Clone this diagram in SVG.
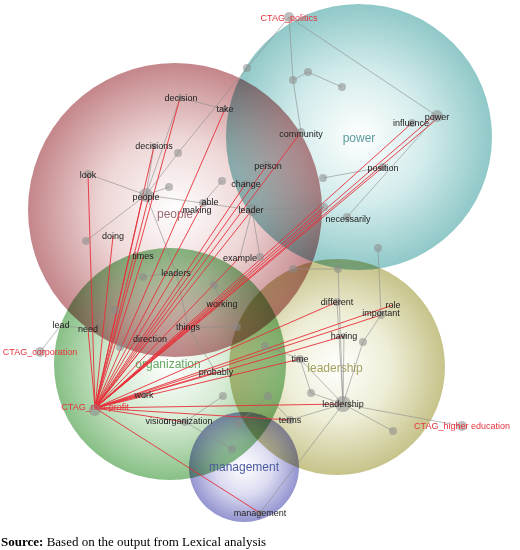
<svg xmlns="http://www.w3.org/2000/svg" width="520" height="550" viewBox="0 0 520 550">
<defs>
<radialGradient id="gRed"><stop offset="0" stop-color="#ffffff"/><stop offset="0.5" stop-color="#eed6d6"/><stop offset="1" stop-color="#c4868a"/></radialGradient>
<radialGradient id="gTeal"><stop offset="0" stop-color="#ffffff"/><stop offset="0.5" stop-color="#d4ecec"/><stop offset="1" stop-color="#90c8c8"/></radialGradient>
<radialGradient id="gGreen"><stop offset="0" stop-color="#ffffff"/><stop offset="0.5" stop-color="#d6ebd4"/><stop offset="1" stop-color="#88c086"/></radialGradient>
<radialGradient id="gOlive"><stop offset="0" stop-color="#ffffff"/><stop offset="0.5" stop-color="#eeedd6"/><stop offset="1" stop-color="#c6c38a"/></radialGradient>
<radialGradient id="gPurple"><stop offset="0" stop-color="#ffffff"/><stop offset="0.5" stop-color="#dcdcf2"/><stop offset="1" stop-color="#9494d0"/></radialGradient>
</defs>
<style>
.cl{mix-blend-mode:multiply}
.t{font-family:"Liberation Sans",Arial,sans-serif;font-size:9px;fill:#222;text-anchor:middle}
.ct{fill:#e8323c}
.big{font-size:12px}
.d{fill:#8a8a8a;fill-opacity:0.55}
.g{stroke:#8c8c8c;stroke-opacity:0.6;stroke-width:1;fill:none}
.r{stroke:#e8303a;stroke-opacity:0.9;stroke-width:1;fill:none}
.cap{font-family:"Liberation Serif","Times New Roman",serif;font-size:13px;fill:#000}
</style>
<g id="clusters">
<circle class="cl" cx="175" cy="210" r="147" fill="url(#gRed)"/>
<circle class="cl" cx="359" cy="137" r="133" fill="url(#gTeal)"/>
<circle class="cl" cx="170" cy="364" r="116" fill="url(#gGreen)"/>
<circle class="cl" cx="337" cy="367" r="108" fill="url(#gOlive)"/>
<circle class="cl" cx="244" cy="467" r="55" fill="url(#gPurple)"/>
<text class="t big" x="175" y="218" style="fill:#9c6a70">people</text>
<text class="t big" x="359" y="142" style="fill:#5a9c9e">power</text>
<text class="t big" x="168" y="368" style="fill:#68a866">organization</text>
<text class="t big" x="335" y="372" style="fill:#a4a25c">leadership</text>
<text class="t big" x="244" y="471" style="fill:#4c5a9e">management</text>
</g>
<g id="connectors">
<path class="g" d="M289 17L293 80L301 132M293 80L308 72L342 87M289 17L437 116M289 17L247 68L178 153L146 195M180 98L225 109M180 98L146 195M154 146L146 195M88 174L146 195M146 195L169 187M146 195L86 241M146 195L252 210L324 207M222 181L203 203M252 210L240 257M252 210L260 257M146 195L176 272M143 277L176 272L188 327L237 327M188 327L216 372M214 285L222 303M61 325L88 329M61 325L40 352M88 329L115 310M150 339L120 347M323 178L383 167M437 116L347 217M293 269L338 269L343 404M378 248L381 315L363 342L343 404M344 336L343 404M337 302L343 404M300 359L343 404M300 359L311 393M265 346L300 359M343 404L311 393M343 404L290 420M343 404L393 431M343 404L462 426M343 404L260 513M268 396L238 424M268 396L290 420M223 396L185 422L232 449"/>
<path class="r" d="M95 408L88 174M95 408L180 98M95 408L154 146M95 408L143 196M95 408L149 196M95 408L225 109M95 408L301 132M95 408L267 165M95 408L246 183M95 408L203 203M95 408L252 210M95 408L412 123M95 408L435 115M95 408L438 118M95 408L383 167M95 408L324 207M95 408L143 257M95 408L113 236M95 408L176 272M95 408L240 257M95 408L222 303M95 408L188 327M95 408L150 339M95 408L88 329M95 408L337 302M95 408L381 315M95 408L393 305M95 408L344 336M95 408L300 359M95 408L216 372M95 408L144 395M95 408L343 404M95 408L290 420M95 408L185 422M95 408L260 513"/>
</g>
<g id="n_ctag_politics"><circle class="d" cx="289" cy="17" r="5"/><text class="t ct" x="289" y="21">CTAG_politics</text></g>
<g id="n_power"><circle class="d" cx="437" cy="116" r="6"/><text class="t" x="437" y="120">power</text></g>
<g id="n_influence"><circle class="d" cx="412" cy="123" r="4"/><text class="t" x="411" y="126">influence</text></g>
<g id="n_community"><circle class="d" cx="301" cy="132" r="4"/><text class="t" x="301" y="137">community</text></g>
<g id="n_position"><circle class="d" cx="383" cy="167" r="4"/><text class="t" x="383" y="171">position</text></g>
<g id="n_person"><circle class="d" cx="267" cy="165" r="4"/><text class="t" x="268" y="169">person</text></g>
<g id="n_change"><circle class="d" cx="246" cy="183" r="3"/><text class="t" x="246" y="187">change</text></g>
<g id="n_decision"><circle class="d" cx="180" cy="98" r="3"/><text class="t" x="181" y="101">decision</text></g>
<g id="n_take"><circle class="d" cx="225" cy="109" r="3"/><text class="t" x="225" y="112">take</text></g>
<g id="n_decisions"><circle class="d" cx="154" cy="146" r="3"/><text class="t" x="154" y="149">decisions</text></g>
<g id="n_people"><circle class="d" cx="146" cy="195" r="7"/><text class="t" x="146" y="200">people</text></g>
<g id="n_look"><circle class="d" cx="88" cy="174" r="4"/><text class="t" x="88" y="178">look</text></g>
<g id="n_able"><circle class="d" cx="203" cy="203" r="4"/><text class="t" x="210" y="205">able</text></g>
<g id="n_making"><text class="t" x="197" y="213">making</text></g>
<g id="n_leader"><circle class="d" cx="252" cy="210" r="6"/><text class="t" x="251" y="213">leader</text></g>
<g id="n_example"><circle class="d" cx="260" cy="257" r="4"/><text class="t" x="240" y="261">example</text></g>
<g id="n_times"><text class="t" x="143" y="259">times</text></g>
<g id="n_doing"><text class="t" x="113" y="239">doing</text></g>
<g id="n_leaders"><text class="t" x="176" y="276">leaders</text></g>
<g id="n_working"><text class="t" x="222" y="307">working</text></g>
<g id="n_lead"><text class="t" x="61" y="328">lead</text></g>
<g id="n_need"><text class="t" x="88" y="332">need</text></g>
<g id="n_ctag_corporation"><circle class="d" cx="40" cy="352" r="5"/><text class="t ct" x="40" y="355">CTAG_corporation</text></g>
<g id="n_things"><text class="t" x="188" y="330">things</text></g>
<g id="n_direction"><text class="t" x="150" y="342">direction</text></g>
<g id="n_probably"><text class="t" x="216" y="375">probably</text></g>
<g id="n_work"><circle class="d" cx="144" cy="395" r="3"/><text class="t" x="144" y="398">work</text></g>
<g id="n_ctag_nonprofit"><circle class="d" cx="95" cy="410" r="6"/><text class="t ct" x="95" y="410">CTAG_non-profit</text></g>
<g id="n_vision"><text class="t" x="157" y="424">vision</text></g>
<g id="n_organization"><circle class="d" cx="185" cy="422" r="4"/><text class="t" x="188" y="424">organization</text></g>
<g id="n_terms"><circle class="d" cx="290" cy="420" r="4"/><text class="t" x="290" y="423">terms</text></g>
<g id="n_leadership"><circle class="d" cx="343" cy="404" r="8"/><text class="t" x="343" y="407">leadership</text></g>
<g id="n_ctag_higher_education"><circle class="d" cx="462" cy="426" r="5"/><text class="t ct" x="462" y="429">CTAG_higher education</text></g>
<g id="n_management"><circle class="d" cx="260" cy="513" r="3"/><text class="t" x="260" y="516">management</text></g>
<g id="n_necessarily"><circle class="d" cx="347" cy="217" r="4"/><text class="t" x="348" y="222">necessarily</text></g>
<g id="n_different"><circle class="d" cx="337" cy="302" r="4"/><text class="t" x="337" y="305">different</text></g>
<g id="n_role"><text class="t" x="393" y="308">role</text></g>
<g id="n_important"><circle class="d" cx="381" cy="315" r="4"/><text class="t" x="381" y="316">important</text></g>
<g id="n_having"><circle class="d" cx="344" cy="336" r="3"/><text class="t" x="344" y="339">having</text></g>
<g id="n_time"><circle class="d" cx="300" cy="359" r="4"/><text class="t" x="300" y="362">time</text></g>
<g id="n_u1"><circle class="d" cx="293" cy="80" r="4"/></g>
<g id="n_u2"><circle class="d" cx="308" cy="72" r="4"/></g>
<g id="n_u3"><circle class="d" cx="342" cy="87" r="4"/></g>
<g id="n_u4"><circle class="d" cx="247" cy="68" r="4"/></g>
<g id="n_u5"><circle class="d" cx="178" cy="153" r="4"/></g>
<g id="n_u6"><circle class="d" cx="169" cy="187" r="4"/></g>
<g id="n_u7"><circle class="d" cx="222" cy="181" r="4"/></g>
<g id="n_u8"><circle class="d" cx="86" cy="241" r="4"/></g>
<g id="n_u9"><circle class="d" cx="143" cy="277" r="4"/></g>
<g id="n_u10"><circle class="d" cx="214" cy="285" r="4"/></g>
<g id="n_u11"><circle class="d" cx="115" cy="310" r="4"/></g>
<g id="n_u12"><circle class="d" cx="237" cy="327" r="4"/></g>
<g id="n_u13"><circle class="d" cx="120" cy="347" r="4"/></g>
<g id="n_u14"><circle class="d" cx="323" cy="178" r="4"/></g>
<g id="n_u15"><circle class="d" cx="324" cy="207" r="4"/></g>
<g id="n_u16"><circle class="d" cx="378" cy="248" r="4"/></g>
<g id="n_u17"><circle class="d" cx="293" cy="269" r="4"/></g>
<g id="n_u18"><circle class="d" cx="338" cy="269" r="4"/></g>
<g id="n_u19"><circle class="d" cx="363" cy="342" r="4"/></g>
<g id="n_u20"><circle class="d" cx="265" cy="346" r="4"/></g>
<g id="n_u21"><circle class="d" cx="311" cy="393" r="4"/></g>
<g id="n_u22"><circle class="d" cx="268" cy="396" r="4"/></g>
<g id="n_u23"><circle class="d" cx="223" cy="396" r="4"/></g>
<g id="n_u24"><circle class="d" cx="238" cy="424" r="4"/></g>
<g id="n_u25"><circle class="d" cx="232" cy="449" r="4"/></g>
<g id="n_u26"><circle class="d" cx="393" cy="431" r="4"/></g>
<text class="cap" x="1" y="546"><tspan font-weight="bold">Source:</tspan> Based on the output from Lexical analysis</text>
</svg>
